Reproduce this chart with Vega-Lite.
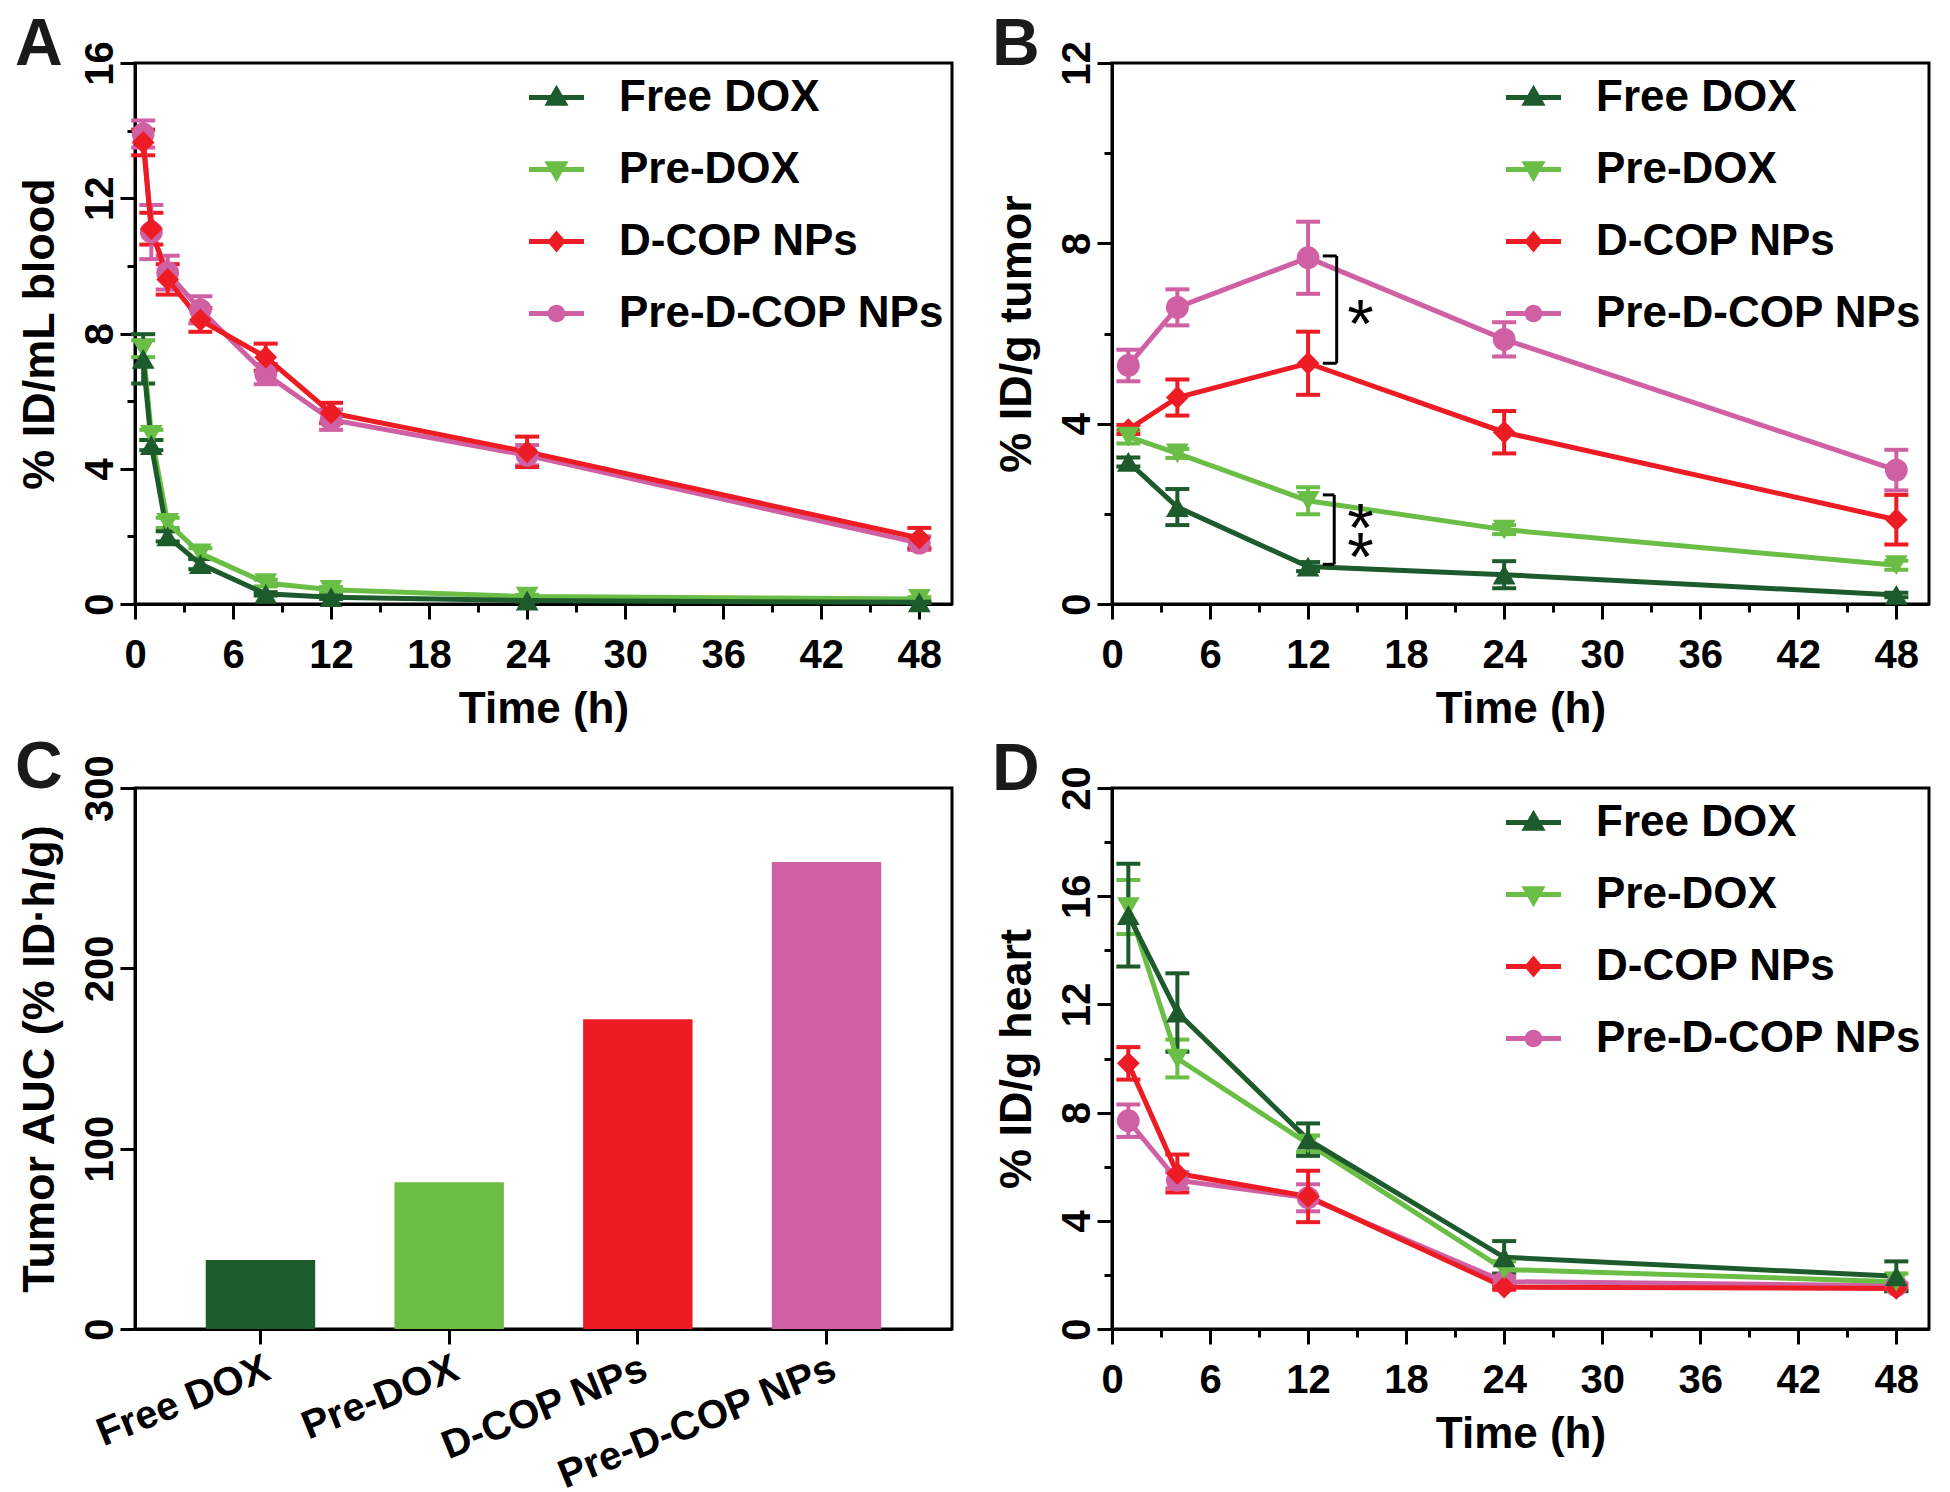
{
  "$schema": "https://vega.github.io/schema/vega-lite/v6.json",
  "background": "white",
  "padding": {"left": 13, "top": 10, "right": 5, "bottom": 5},
  "config": {
    "font": "Liberation Sans",
    "view": {"stroke": "black", "strokeWidth": 3},
    "axis": {
      "domainColor": "black", "domainWidth": 3, "tickColor": "black", "tickWidth": 3, "tickSize": 15,
      "labelFont": "Liberation Sans", "labelFontWeight": "bold", "labelFontSize": 40, "labelColor": "black",
      "titleFont": "Liberation Sans", "titleFontWeight": "bold", "titleFontSize": 44, "titleColor": "black",
      "grid": false, "labelOverlap": false, "labelFlush": false, "labelLimit": 0
    },
    "axisX": {"labelPadding": 16, "titlePadding": 12},
    "axisY": {"labelAngle": -90, "labelAlign": "center", "labelBaseline": "alphabetic", "labelPadding": 8, "titlePadding": 18, "titleFontSize": 45},
    "legend": {
      "orient": "top-right", "offset": 7, "padding": 0,
      "labelFont": "Liberation Sans", "labelFontSize": 44, "labelFontWeight": "bold", "labelColor": "black",
      "labelOffset": 35, "rowPadding": 22, "symbolSize": 3025, "labelLimit": 0
    },
    "title": {"anchor": "start", "frame": "group", "fontSize": 66, "fontWeight": "bold", "font": "Liberation Sans", "color": "#1a1a1a", "dx": -120, "offset": 0, "baseline": "alphabetic"}
  },
  "datasets": {
    "blood": [
      {"series": "Pre-D-COP NPs", "time": 0.5, "val": 13.9, "err": 0.4},
      {"series": "Pre-D-COP NPs", "time": 1, "val": 11.0, "err": 0.8},
      {"series": "Pre-D-COP NPs", "time": 2, "val": 9.8, "err": 0.5},
      {"series": "Pre-D-COP NPs", "time": 4, "val": 8.7, "err": 0.4},
      {"series": "Pre-D-COP NPs", "time": 8, "val": 6.8, "err": 0.3},
      {"series": "Pre-D-COP NPs", "time": 12, "val": 5.45, "err": 0.3},
      {"series": "Pre-D-COP NPs", "time": 24, "val": 4.4, "err": 0.3},
      {"series": "Pre-D-COP NPs", "time": 48, "val": 1.8, "err": 0.2},
      {"series": "D-COP NPs", "time": 0.5, "val": 13.65, "err": 0.38},
      {"series": "D-COP NPs", "time": 1, "val": 11.1, "err": 0.47},
      {"series": "D-COP NPs", "time": 2, "val": 9.6, "err": 0.45},
      {"series": "D-COP NPs", "time": 4, "val": 8.4, "err": 0.35},
      {"series": "D-COP NPs", "time": 8, "val": 7.3, "err": 0.4},
      {"series": "D-COP NPs", "time": 12, "val": 5.65, "err": 0.3},
      {"series": "D-COP NPs", "time": 24, "val": 4.5, "err": 0.45},
      {"series": "D-COP NPs", "time": 48, "val": 1.95, "err": 0.3},
      {"series": "Pre-DOX", "time": 0.5, "val": 7.55, "err": 0.25},
      {"series": "Pre-DOX", "time": 1, "val": 5.0, "err": 0.15},
      {"series": "Pre-DOX", "time": 2, "val": 2.4, "err": 0.15},
      {"series": "Pre-DOX", "time": 4, "val": 1.5, "err": 0.15},
      {"series": "Pre-DOX", "time": 8, "val": 0.62, "err": 0.1},
      {"series": "Pre-DOX", "time": 12, "val": 0.42, "err": 0.08},
      {"series": "Pre-DOX", "time": 24, "val": 0.22, "err": 0.05},
      {"series": "Pre-DOX", "time": 48, "val": 0.15, "err": 0.05},
      {"series": "Free DOX", "time": 0.5, "val": 7.25, "err": 0.73},
      {"series": "Free DOX", "time": 1, "val": 4.7, "err": 0.15},
      {"series": "Free DOX", "time": 2, "val": 2.0, "err": 0.15},
      {"series": "Free DOX", "time": 4, "val": 1.18, "err": 0.15},
      {"series": "Free DOX", "time": 8, "val": 0.3, "err": 0.05},
      {"series": "Free DOX", "time": 12, "val": 0.2, "err": 0.05},
      {"series": "Free DOX", "time": 24, "val": 0.1, "err": 0.03},
      {"series": "Free DOX", "time": 48, "val": 0.05, "err": 0.02}
    ],
    "tumor": [
      {"series": "Pre-D-COP NPs", "time": 1, "val": 5.29, "err": 0.35},
      {"series": "Pre-D-COP NPs", "time": 4, "val": 6.58, "err": 0.4},
      {"series": "Pre-D-COP NPs", "time": 12, "val": 7.68, "err": 0.8},
      {"series": "Pre-D-COP NPs", "time": 24, "val": 5.87, "err": 0.38},
      {"series": "Pre-D-COP NPs", "time": 48, "val": 2.97, "err": 0.45},
      {"series": "D-COP NPs", "time": 1, "val": 3.87, "err": 0.1},
      {"series": "D-COP NPs", "time": 4, "val": 4.58, "err": 0.4},
      {"series": "D-COP NPs", "time": 12, "val": 5.34, "err": 0.7},
      {"series": "D-COP NPs", "time": 24, "val": 3.81, "err": 0.47},
      {"series": "D-COP NPs", "time": 48, "val": 1.87, "err": 0.55},
      {"series": "Pre-DOX", "time": 1, "val": 3.71, "err": 0.15},
      {"series": "Pre-DOX", "time": 4, "val": 3.34, "err": 0.1},
      {"series": "Pre-DOX", "time": 12, "val": 2.29, "err": 0.3},
      {"series": "Pre-DOX", "time": 24, "val": 1.65, "err": 0.1},
      {"series": "Pre-DOX", "time": 48, "val": 0.86, "err": 0.1},
      {"series": "Free DOX", "time": 1, "val": 3.15, "err": 0.1},
      {"series": "Free DOX", "time": 4, "val": 2.15, "err": 0.4},
      {"series": "Free DOX", "time": 12, "val": 0.83, "err": 0.1},
      {"series": "Free DOX", "time": 24, "val": 0.65, "err": 0.3},
      {"series": "Free DOX", "time": 48, "val": 0.2, "err": 0.05}
    ],
    "heart": [
      {"series": "Pre-D-COP NPs", "time": 1, "val": 7.7, "err": 0.6},
      {"series": "Pre-D-COP NPs", "time": 4, "val": 5.5, "err": 0.3},
      {"series": "Pre-D-COP NPs", "time": 12, "val": 4.85, "err": 0.5},
      {"series": "Pre-D-COP NPs", "time": 24, "val": 1.75, "err": 0.2},
      {"series": "Pre-D-COP NPs", "time": 48, "val": 1.6, "err": 0.1},
      {"series": "D-COP NPs", "time": 1, "val": 9.82, "err": 0.6},
      {"series": "D-COP NPs", "time": 4, "val": 5.75, "err": 0.7},
      {"series": "D-COP NPs", "time": 12, "val": 4.9, "err": 0.95},
      {"series": "D-COP NPs", "time": 24, "val": 1.55, "err": 0.1},
      {"series": "D-COP NPs", "time": 48, "val": 1.5, "err": 0.1},
      {"series": "Pre-DOX", "time": 1, "val": 15.6, "err": 1.0},
      {"series": "Pre-DOX", "time": 4, "val": 10.0, "err": 0.7},
      {"series": "Pre-DOX", "time": 12, "val": 6.85, "err": 0.3},
      {"series": "Pre-DOX", "time": 24, "val": 2.2, "err": 0.3},
      {"series": "Pre-DOX", "time": 48, "val": 1.75, "err": 0.3},
      {"series": "Free DOX", "time": 1, "val": 15.3, "err": 1.9},
      {"series": "Free DOX", "time": 4, "val": 11.7, "err": 1.45},
      {"series": "Free DOX", "time": 12, "val": 7.0, "err": 0.6},
      {"series": "Free DOX", "time": 24, "val": 2.65, "err": 0.6},
      {"series": "Free DOX", "time": 48, "val": 1.95, "err": 0.55}
    ],
    "auc": [
      {"group": "Free DOX", "auc": 38.3},
      {"group": "Pre-DOX", "auc": 81.4},
      {"group": "D-COP NPs", "auc": 171.8},
      {"group": "Pre-D-COP NPs", "auc": 259}
    ],
    "brackets": [
      {"time": 13.75, "time2": 13.75, "val": 5.34, "val2": 7.72},
      {"time": 12.9, "time2": 13.75, "val": 7.72, "val2": 7.72},
      {"time": 12.9, "time2": 13.75, "val": 5.34, "val2": 5.34},
      {"time": 13.6, "time2": 13.6, "val": 0.88, "val2": 2.42},
      {"time": 12.9, "time2": 13.6, "val": 2.42, "val2": 2.42},
      {"time": 12.9, "time2": 13.6, "val": 0.88, "val2": 0.88}
    ],
    "stars": [
      {"time": 15.2, "val": 6.47, "label": "*"},
      {"time": 15.2, "val": 1.96, "label": "*"},
      {"time": 15.2, "val": 1.3, "label": "*"}
    ]
  },
  "columns": 2,
  "spacing": {"row": 184, "column": 160},
  "bounds": "flush",
  "resolve": {"scale": {"color": "independent", "x": "independent", "y": "independent"}},
  "concat": [
    {
      "title": {"text": "A", "dy": 42},
      "width": 817, "height": 541,
      "data": {"name": "blood"},
      "encoding": {
        "x": {"field": "time", "type": "quantitative", "title": "Time (h)", "scale": {"domain": [0, 50], "nice": false},
          "axis": {"values": [0,3,6,9,12,15,18,21,24,27,30,33,36,39,42,45,48], "labelExpr": "datum.value % 6 === 0 ? datum.label : ''", "tickSize": {"condition": {"test": "datum.value % 6 !== 0", "value": 8}, "value": 15}}},
        "y": {"field": "val", "type": "quantitative", "title": "% ID/mL blood", "scale": {"domain": [0, 16], "nice": false},
          "axis": {"values": [0,2,4,6,8,10,12,14,16], "labelExpr": "datum.value % 4 === 0 ? datum.label : ''", "tickSize": {"condition": {"test": "datum.value % 4 !== 0", "value": 8}, "value": 15}}},
        "color": {"field": "series", "type": "nominal", "scale": {"domain": ["Free DOX","Pre-DOX","D-COP NPs","Pre-D-COP NPs"], "range": ["#1d5b2d","#6abd45","#ed1c24","#d060a4"]},
          "legend": {"title": null, "encode": {"symbols": {"update": {
            "shape": {"signal": "datum.value === 'Free DOX' ? 'M-1,-0.09H1V0.09H-1Z M0,-0.46L0.44,0.3L-0.44,0.3Z' : datum.value === 'Pre-DOX' ? 'M-1,-0.09H1V0.09H-1Z M0,0.46L-0.44,-0.3L0.44,-0.3Z' : datum.value === 'D-COP NPs' ? 'M-1,-0.09H1V0.09H-1Z M0,-0.4L0.34,0L0,0.4L-0.34,0Z' : 'M-1,-0.09H1V0.09H-1Z M-0.32,0A0.32,0.32,0,1,1,0.32,0A0.32,0.32,0,1,1,-0.32,0Z'"},
            "fill": {"signal": "datum.value === 'Free DOX' ? '#1d5b2d' : datum.value === 'Pre-DOX' ? '#6abd45' : datum.value === 'D-COP NPs' ? '#ed1c24' : '#d060a4'"},
            "stroke": {"value": "transparent"}, "strokeWidth": {"value": 0}, "size": {"value": 3025}, "opacity": {"value": 1}}}}}}
      },
      "layer": [
        {"mark": {"type": "errorbar", "ticks": {"size": 24, "thickness": 4, "opacity": 1}, "rule": {"strokeWidth": 4, "opacity": 1}},
         "encoding": {"yError": {"field": "err"}}},
        {"mark": {"type": "line", "strokeWidth": 5}},
        {"mark": {"type": "point", "filled": true, "size": 520, "opacity": 1},
         "encoding": {"shape": {"condition": [{"test": "datum.series === 'Free DOX'", "value": "triangle-up"}, {"test": "datum.series === 'Pre-DOX'", "value": "triangle-down"}, {"test": "datum.series === 'D-COP NPs'", "value": "diamond"}], "value": "circle"}}}
      ]
    },
    {
      "title": {"text": "B", "dy": 42},
      "width": 817, "height": 541,
      "data": {"name": "tumor"},
      "encoding": {
        "x": {"field": "time", "type": "quantitative", "title": "Time (h)", "scale": {"domain": [0, 50], "nice": false},
          "axis": {"values": [0,3,6,9,12,15,18,21,24,27,30,33,36,39,42,45,48], "labelExpr": "datum.value % 6 === 0 ? datum.label : ''", "tickSize": {"condition": {"test": "datum.value % 6 !== 0", "value": 8}, "value": 15}}},
        "y": {"field": "val", "type": "quantitative", "title": "% ID/g tumor", "scale": {"domain": [0, 12], "nice": false},
          "axis": {"values": [0,2,4,6,8,10,12], "labelExpr": "datum.value % 4 === 0 ? datum.label : ''", "tickSize": {"condition": {"test": "datum.value % 4 !== 0", "value": 8}, "value": 15}}},
        "color": {"field": "series", "type": "nominal", "scale": {"domain": ["Free DOX","Pre-DOX","D-COP NPs","Pre-D-COP NPs"], "range": ["#1d5b2d","#6abd45","#ed1c24","#d060a4"]},
          "legend": {"title": null, "encode": {"symbols": {"update": {
            "shape": {"signal": "datum.value === 'Free DOX' ? 'M-1,-0.09H1V0.09H-1Z M0,-0.46L0.44,0.3L-0.44,0.3Z' : datum.value === 'Pre-DOX' ? 'M-1,-0.09H1V0.09H-1Z M0,0.46L-0.44,-0.3L0.44,-0.3Z' : datum.value === 'D-COP NPs' ? 'M-1,-0.09H1V0.09H-1Z M0,-0.4L0.34,0L0,0.4L-0.34,0Z' : 'M-1,-0.09H1V0.09H-1Z M-0.32,0A0.32,0.32,0,1,1,0.32,0A0.32,0.32,0,1,1,-0.32,0Z'"},
            "fill": {"signal": "datum.value === 'Free DOX' ? '#1d5b2d' : datum.value === 'Pre-DOX' ? '#6abd45' : datum.value === 'D-COP NPs' ? '#ed1c24' : '#d060a4'"},
            "stroke": {"value": "transparent"}, "strokeWidth": {"value": 0}, "size": {"value": 3025}, "opacity": {"value": 1}}}}}}
      },
      "layer": [
        {"mark": {"type": "errorbar", "ticks": {"size": 24, "thickness": 4, "opacity": 1}, "rule": {"strokeWidth": 4, "opacity": 1}},
         "encoding": {"yError": {"field": "err"}}},
        {"mark": {"type": "line", "strokeWidth": 5}},
        {"mark": {"type": "point", "filled": true, "size": 520, "opacity": 1},
         "encoding": {"shape": {"condition": [{"test": "datum.series === 'Free DOX'", "value": "triangle-up"}, {"test": "datum.series === 'Pre-DOX'", "value": "triangle-down"}, {"test": "datum.series === 'D-COP NPs'", "value": "diamond"}], "value": "circle"}}},
        {"data": {"name": "brackets"}, "mark": {"type": "rule", "strokeWidth": 3},
         "encoding": {"x2": {"field": "time2"}, "y2": {"field": "val2"}, "color": {"value": "black"}}},
        {"data": {"name": "stars"}, "mark": {"type": "text", "fontSize": 68, "font": "Liberation Sans", "baseline": "middle", "dy": 15},
         "encoding": {"text": {"field": "label"}, "color": {"value": "black"}}}
      ]
    },
    {
      "title": {"text": "C", "dy": 51},
      "width": 817, "height": 541,
      "data": {"name": "auc"},
      "mark": {"type": "bar"},
      "encoding": {
        "x": {"field": "group", "type": "nominal", "sort": null, "scale": {"paddingInner": 0.42, "paddingOuter": 0.375},
          "axis": {"title": null, "labelAngle": -22, "labelAlign": "right", "labelBaseline": "top", "labelPadding": 4, "labelLimit": 0}},
        "y": {"field": "auc", "type": "quantitative", "title": "Tumor AUC (% ID·h/g)", "scale": {"domain": [0, 300], "nice": false},
          "axis": {"values": [0, 100, 200, 300]}},
        "color": {"field": "group", "type": "nominal", "scale": {"domain": ["Free DOX","Pre-DOX","D-COP NPs","Pre-D-COP NPs"], "range": ["#1d5b2d","#6abd45","#ed1c24","#d060a4"]}, "legend": null}
      }
    },
    {
      "title": {"text": "D", "dy": 42},
      "width": 817, "height": 541,
      "data": {"name": "heart"},
      "encoding": {
        "x": {"field": "time", "type": "quantitative", "title": "Time (h)", "scale": {"domain": [0, 50], "nice": false},
          "axis": {"values": [0,3,6,9,12,15,18,21,24,27,30,33,36,39,42,45,48], "labelExpr": "datum.value % 6 === 0 ? datum.label : ''", "tickSize": {"condition": {"test": "datum.value % 6 !== 0", "value": 8}, "value": 15}}},
        "y": {"field": "val", "type": "quantitative", "title": "% ID/g heart", "scale": {"domain": [0, 20], "nice": false},
          "axis": {"values": [0,2,4,6,8,10,12,14,16,18,20], "labelExpr": "datum.value % 4 === 0 ? datum.label : ''", "tickSize": {"condition": {"test": "datum.value % 4 !== 0", "value": 8}, "value": 15}}},
        "color": {"field": "series", "type": "nominal", "scale": {"domain": ["Free DOX","Pre-DOX","D-COP NPs","Pre-D-COP NPs"], "range": ["#1d5b2d","#6abd45","#ed1c24","#d060a4"]},
          "legend": {"title": null, "encode": {"symbols": {"update": {
            "shape": {"signal": "datum.value === 'Free DOX' ? 'M-1,-0.09H1V0.09H-1Z M0,-0.46L0.44,0.3L-0.44,0.3Z' : datum.value === 'Pre-DOX' ? 'M-1,-0.09H1V0.09H-1Z M0,0.46L-0.44,-0.3L0.44,-0.3Z' : datum.value === 'D-COP NPs' ? 'M-1,-0.09H1V0.09H-1Z M0,-0.4L0.34,0L0,0.4L-0.34,0Z' : 'M-1,-0.09H1V0.09H-1Z M-0.32,0A0.32,0.32,0,1,1,0.32,0A0.32,0.32,0,1,1,-0.32,0Z'"},
            "fill": {"signal": "datum.value === 'Free DOX' ? '#1d5b2d' : datum.value === 'Pre-DOX' ? '#6abd45' : datum.value === 'D-COP NPs' ? '#ed1c24' : '#d060a4'"},
            "stroke": {"value": "transparent"}, "strokeWidth": {"value": 0}, "size": {"value": 3025}, "opacity": {"value": 1}}}}}}
      },
      "layer": [
        {"mark": {"type": "errorbar", "ticks": {"size": 24, "thickness": 4, "opacity": 1}, "rule": {"strokeWidth": 4, "opacity": 1}},
         "encoding": {"yError": {"field": "err"}}},
        {"mark": {"type": "line", "strokeWidth": 5}},
        {"mark": {"type": "point", "filled": true, "size": 520, "opacity": 1},
         "encoding": {"shape": {"condition": [{"test": "datum.series === 'Free DOX'", "value": "triangle-up"}, {"test": "datum.series === 'Pre-DOX'", "value": "triangle-down"}, {"test": "datum.series === 'D-COP NPs'", "value": "diamond"}], "value": "circle"}}}
      ]
    }
  ]
}
